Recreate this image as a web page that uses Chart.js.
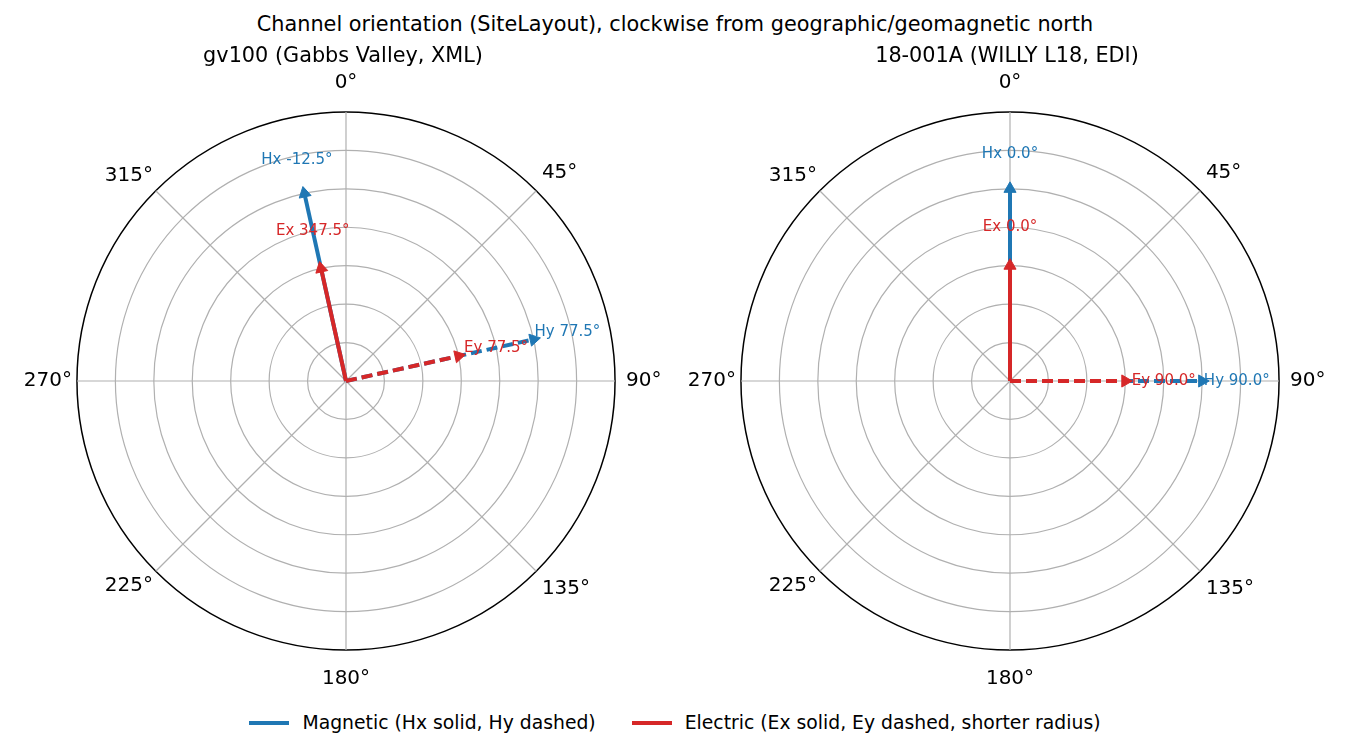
<!DOCTYPE html>
<html>
<head>
<meta charset="utf-8">
<script src="https://cdn.jsdelivr.net/npm/chart.js@4.4.1/dist/chart.umd.min.js"></script>
<style>
  body { margin: 0; width: 1350px; height: 750px; background: #fff; position: relative; overflow: hidden;
         font-family: "DejaVu Sans", sans-serif; color: #000; }
  #suptitle { position: absolute; top: 12px; left: 0; width: 1350px; text-align: center; font-size: 20.8px; line-height: 25px; }
  .panel { position: absolute; top: 26px; width: 660px; height: 666px; }
  #legend { position: absolute; top: 710px; left: 0; width: 1350px; display: flex; justify-content: center;
            font-size: 18.8px; line-height: 26px; }
  .item { display: flex; align-items: center; margin: 0 18px; }
  .swatch { width: 40px; height: 4px; margin-right: 13px; }
</style>
</head>
<body>
<div id="suptitle">Channel orientation (SiteLayout), clockwise from geographic/geomagnetic north</div>
<div class="panel" style="left:13px"><canvas id="left"></canvas></div>
<div class="panel" style="left:677px"><canvas id="right"></canvas></div>
<div id="legend">
  <div class="item"><span class="swatch" style="background:#1f77b4"></span>Magnetic (Hx solid, Hy dashed)</div>
  <div class="item"><span class="swatch" style="background:#d62728"></span>Electric (Ex solid, Ey dashed, shorter radius)</div>
</div>
<script>
// angular resolution of the polar "category" axis and the labelled directions
const angleStep = 2.5;
const spokeAngles = Array.from({ length: 360 / angleStep }, (_, i) => i * angleStep);
const angleTicks = [0, 45, 90, 135, 180, 225, 270, 315];

// channels
const channelNames = ['Hx', 'Hy', 'Ex', 'Ey'];
const channelRadius = [1.0, 1.0, 0.6, 0.6];
const gv100Azimuth = [-12.5, 77.5, 347.5, 77.5];
const willyAzimuth = [0.0, 90.0, 0.0, 90.0];

const BLUE = '#1f77b4';
const RED = '#d62728';
const DASH = [11, 5];

Chart.defaults.font.family = "'DejaVu Sans', sans-serif";
Chart.defaults.color = '#000';

function wrapAngle(az) { return ((az % 360) + 360) % 360; }
function spokeIndex(az) { return Math.round(wrapAngle(az) / angleStep) % spokeAngles.length; }

// pixel gap between circle and tick label, per direction
const labelPad = { 0: 17, 45: 8, 90: 11, 135: 8, 180: 17, 225: 4, 270: 5, 315: 4 };

// radar lines are closed loops by default -> keep arrows open
const openLines = {
  id: 'openLines',
  afterDatasetUpdate(chart, args) {
    const line = args.meta.dataset;
    if (line) { line._loop = false; line._path = undefined; line._segments = undefined; }
  }
};

const channelLabels = {
  id: 'channelLabels',
  afterDatasetsDraw(chart, args, opts) {
    const scale = chart.scales.r;
    const ctx = chart.ctx;
    ctx.save();
    ctx.font = "15px 'DejaVu Sans'";
    ctx.textAlign = 'center';
    ctx.textBaseline = 'middle';
    opts.azimuths.forEach((az, i) => {
      const pos = scale.getPointPositionForValue(spokeIndex(az), channelRadius[i] * 0.95 + 0.23);
      ctx.fillStyle = channelNames[i][0] === 'H' ? BLUE : RED;
      ctx.fillText(channelNames[i] + ' ' + az.toFixed(1) + '°', pos.x, pos.y);
    });
    ctx.restore();
  }
};

function makeChart(id, title, azimuths) {
  const datasets = channelNames.map((name, i) => {
    const k = spokeIndex(azimuths[i]);
    const data = spokeAngles.map(() => null);
    data[k] = channelRadius[i];
    data[(k + 1) % data.length] = 0;
    const magnetic = name[0] === 'H';
    const color = magnetic ? BLUE : RED;
    return {
      label: name,
      data: data,
      borderColor: color,
      backgroundColor: color,
      borderWidth: 4,
      borderDash: name[1] === 'y' ? DASH : [],
      // path runs tip -> centre; shift the pattern so dashes start at the centre
      borderDashOffset: c => {
        const len = c.chart.scales.r.getDistanceFromCenterForValue(channelRadius[i]);
        const period = DASH[0] + DASH[1];
        return (((DASH[0] - len) % period) + period) % period;
      },
      fill: false,
      spanGaps: false,
      pointStyle: 'triangle',
      pointRotation: wrapAngle(azimuths[i]),
      pointRadius: c => (c.dataIndex === k ? 7 : 0),
      pointBorderWidth: 1,
      pointBackgroundColor: color,
      pointBorderColor: color,
      order: magnetic ? 1 : 0
    };
  });

  return new Chart(document.getElementById(id), {
    type: 'radar',
    data: {
      labels: spokeAngles.map(a => (angleTicks.includes(a) ? a + '°' : '')),
      datasets: datasets
    },
    options: {
      responsive: true,
      maintainAspectRatio: false,
      animation: false,
      events: [],
      layout: { padding: 0 },
      scales: {
        r: {
          min: 0,
          max: 1.4,
          startAngle: 0,
          ticks: { display: false, stepSize: 0.2 },
          grid: {
            circular: true,
            color: c => (Math.abs(c.tick.value - 1.4) < 1e-6 ? '#000' : '#b0b0b0'),
            lineWidth: c => (Math.abs(c.tick.value - 1.4) < 1e-6 ? 1.5 : 1.2)
          },
          angleLines: {
            color: '#b0b0b0',
            lineWidth: c => (angleTicks.includes(spokeAngles[c.index]) ? 1.2 : 0)
          },
          pointLabels: {
            font: { size: 20 },
            color: '#000',
            padding: c => labelPad[spokeAngles[c.index]] ?? 0
          }
        }
      },
      plugins: {
        legend: { display: false },
        tooltip: { enabled: false },
        title: {
          display: true,
          text: title,
          font: { size: 20.8, weight: 'normal' },
          color: '#000',
          padding: { top: 18.5, bottom: 1.5 }
        },
        channelLabels: { azimuths: azimuths }
      }
    },
    plugins: [openLines, channelLabels]
  });
}

makeChart('left', 'gv100 (Gabbs Valley, XML)', gv100Azimuth);
makeChart('right', '18-001A (WILLY L18, EDI)', willyAzimuth);
</script>
</body>
</html>
